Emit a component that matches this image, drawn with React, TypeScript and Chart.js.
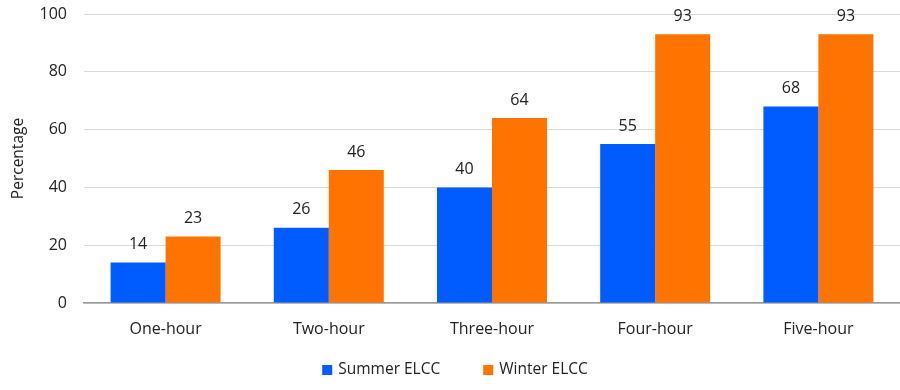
import React, { useEffect, useRef } from "react";
import { Chart, registerables } from "chart.js";

Chart.register(...registerables);

const categories = ["One-hour", "Two-hour", "Three-hour", "Four-hour", "Five-hour"];
const summerELCC = [14, 26, 40, 55, 68];
const winterELCC = [23, 46, 64, 93, 93];
const seriesNames = ["Summer ELCC", "Winter ELCC"];
const seriesColors = ["#005cff", "#ff7400"];
const yTicks = [0, 20, 40, 60, 80, 100];

const FONT = "'Open Sans', 'Noto Sans', sans-serif";

const valueLabels = {
  id: "valueLabels",
  afterDatasetsDraw(chart: any) {
    const ctx = chart.ctx;
    ctx.save();
    ctx.font = `16px ${FONT}`;
    ctx.fillStyle = "#222222";
    ctx.textAlign = "center";
    ctx.textBaseline = "middle";
    chart.data.datasets.forEach((ds: any, i: number) => {
      const meta = chart.getDatasetMeta(i);
      meta.data.forEach((bar: any, j: number) => {
        ctx.fillText(String(ds.data[j]), bar.x, bar.y - 18);
      });
    });
    ctx.restore();
  },
};

// Bottom legend drawn on the canvas from the datasets
const bottomLegend = {
  id: "bottomLegend",
  afterDraw(chart: any) {
    const ctx = chart.ctx;
    const box = 10;
    const boxGap = 6;
    const itemGap = 43;
    ctx.save();
    ctx.font = `15.5px ${FONT}`;
    ctx.textBaseline = "middle";
    ctx.textAlign = "left";
    const items = chart.data.datasets.map((ds: any) => ({
      text: ds.label,
      color: ds.backgroundColor,
      w: box + boxGap + ctx.measureText(ds.label).width,
    }));
    const total = items.reduce((a: number, it: any) => a + it.w, 0) + itemGap * (items.length - 1);
    let x = chart.width / 2 + 5 - total / 2;
    const y = chart.height - 20;
    items.forEach((it: any) => {
      ctx.fillStyle = it.color;
      ctx.fillRect(x, y - box / 2, box, box);
      ctx.fillStyle = "#222222";
      ctx.fillText(it.text, x + box + boxGap, y);
      x += it.w + itemGap;
    });
    ctx.restore();
  },
};

export default function App() {
  const ref = useRef<HTMLCanvasElement>(null);
  useEffect(() => {
    if (!ref.current) return;
    const chart = new Chart(ref.current, {
      type: "bar",
      data: {
        labels: categories,
        datasets: [
          { label: seriesNames[0], data: summerELCC, backgroundColor: seriesColors[0] },
          { label: seriesNames[1], data: winterELCC, backgroundColor: seriesColors[1] },
        ],
      },
      options: {
        animation: false,
        responsive: false,
        maintainAspectRatio: false,
        layout: { padding: { top: 14, right: 0, left: 0, bottom: 43 } },
        datasets: { bar: { categoryPercentage: 0.674, barPercentage: 1 } } as any,
        plugins: {
          legend: { display: false },
          tooltip: { enabled: false },
        },
        scales: {
          x: {
            afterFit: (s: any) => { s.height = 44; s.paddingLeft = 0; s.paddingRight = 0; },
            grid: { display: false },
            border: { display: true, color: "#999999", width: 1.5 },
            ticks: { color: "#222222", font: { family: FONT, size: 16 }, padding: 9 },
          },
          y: {
            min: 0,
            max: 100,
            afterFit: (s: any) => { s.width = 84; s.paddingTop = 0; s.paddingBottom = 0; },
            afterBuildTicks: (s: any) => { s.ticks = yTicks.map((v) => ({ value: v })); },
            grid: { color: "#d9d9d9", drawTicks: false, lineWidth: 1 },
            border: { display: false },
            ticks: { color: "#222222", font: { family: FONT, size: 16 }, padding: 17 },
            title: {
              display: true,
              text: "Percentage",
              color: "#222222",
              font: { family: FONT, size: 15.5 },
              padding: { top: 9, bottom: 0 },
            },
          },
        },
      },
      plugins: [valueLabels, bottomLegend],
    });
    return () => chart.destroy();
  }, []);
  return (
    <div style={{ position: "absolute", left: 0, top: 0, width: 900, height: 390 }}>
      <canvas ref={ref} width={900} height={390} />
    </div>
  );
}
